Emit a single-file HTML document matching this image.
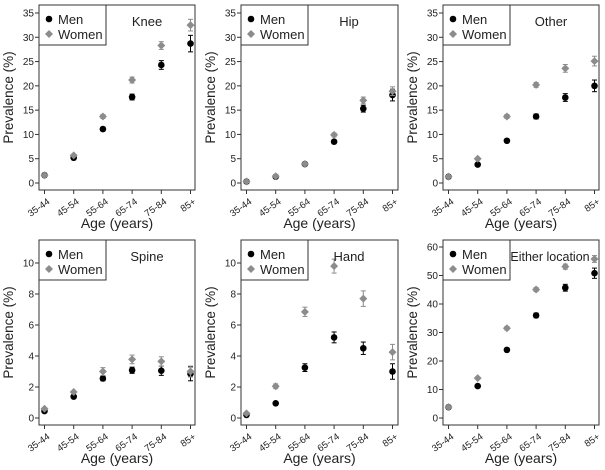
<!DOCTYPE html>
<html><head><meta charset="utf-8"><style>
html,body{margin:0;padding:0;background:#fff}
svg{display:block;font-family:"Liberation Sans",Arial,sans-serif}
</style></head><body>
<svg id="chart" width="605" height="470" viewBox="0 0 605 470" xmlns="http://www.w3.org/2000/svg"></svg>
<script>
const categories = ["35-44","45-54","55-64","65-74","75-84","85+"];
const panelTitles = ["Knee","Hip","Other","Spine","Hand","Either location"];
const kneeMen = [1.6,5.2,11.1,17.7,24.3,28.7];
const kneeMenErr = [0.3,0.3,0.4,0.6,0.9,1.7];
const kneeWomen = [1.6,5.7,13.7,21.2,28.3,32.5];
const kneeWomenErr = [0.3,0.3,0.4,0.6,0.8,1.2];
const hipMen = [0.3,1.3,3.9,8.5,15.3,18.1];
const hipMenErr = [0.1,0.2,0.3,0.4,0.7,1.2];
const hipWomen = [0.3,1.4,3.9,9.9,17.0,18.9];
const hipWomenErr = [0.1,0.2,0.3,0.4,0.7,0.9];
const otherMen = [1.3,3.8,8.7,13.7,17.6,20.0];
const otherMenErr = [0.2,0.3,0.3,0.5,0.8,1.2];
const otherWomen = [1.3,5.0,13.7,20.2,23.6,25.1];
const otherWomenErr = [0.2,0.3,0.4,0.5,0.8,1.0];
const spineMen = [0.45,1.38,2.55,3.08,3.05,2.85];
const spineMenErr = [0.05,0.08,0.15,0.2,0.3,0.45];
const spineWomen = [0.6,1.68,3.0,3.78,3.65,3.0];
const spineWomenErr = [0.05,0.08,0.25,0.28,0.3,0.35];
const handMen = [0.2,0.95,3.25,5.2,4.5,3.0];
const handMenErr = [0.05,0.08,0.25,0.35,0.4,0.5];
const handWomen = [0.3,2.05,6.85,9.8,7.7,4.25];
const handWomenErr = [0.05,0.15,0.3,0.45,0.5,0.5];
const eitherMen = [3.8,11.2,23.9,36.0,45.7,50.8];
const eitherMenErr = [0.3,0.5,0.6,0.8,1.2,1.8];
const eitherWomen = [3.8,14.0,31.5,45.1,53.1,55.8];
const eitherWomenErr = [0.3,0.5,0.6,0.7,0.9,1.2];
const ticksTop = [0,5,10,15,20,25,30,35];
const ticksSmall = [0,2,4,6,8,10];
const ticksEither = [0,10,20,30,40,50,60];

const NS="http://www.w3.org/2000/svg";
const svg=document.getElementById('chart');
function mk(tag,attrs,parent){const e=document.createElementNS(NS,tag);for(const k in attrs)e.setAttribute(k,attrs[k]);(parent||svg).appendChild(e);return e;}

const panels=[
 {men:kneeMen,me:kneeMenErr,wom:kneeWomen,we:kneeWomenErr,ticks:ticksTop,unit:170/35},
 {men:hipMen,me:hipMenErr,wom:hipWomen,we:hipWomenErr,ticks:ticksTop,unit:170/35},
 {men:otherMen,me:otherMenErr,wom:otherWomen,we:otherWomenErr,ticks:ticksTop,unit:170/35},
 {men:spineMen,me:spineMenErr,wom:spineWomen,we:spineWomenErr,ticks:ticksSmall,unit:155/10},
 {men:handMen,me:handMenErr,wom:handWomen,we:handWomenErr,ticks:ticksSmall,unit:155/10},
 {men:eitherMen,me:eitherMenErr,wom:eitherWomen,we:eitherWomenErr,ticks:ticksEither,unit:171/60}
];
const colLeft=[39,241,443], colRight=[195,398,599];
panels.forEach((p,i)=>{
  const c=i%3,r=Math.floor(i/3);
  const L=colLeft[c],R=colRight[c],T=5+r*235,B=190+r*235,y0=183+r*235;
  const x0=L+5.5, step=29.2;
  const g=mk('g',{});
  
  
  const xs=k=>x0+k*step, ys=v=>y0-v*p.unit;
  mk('rect',{x:L,y:T,width:R-L,height:B-T,fill:'none',stroke:'#333','stroke-width':1},g);
  p.ticks.forEach(t=>{
    mk('line',{x1:L-4,x2:L,y1:ys(t),y2:ys(t),stroke:'#333'},g);
    const tx=mk('text',{x:L-5,y:ys(t)+3.5,'font-size':10,'text-anchor':'end',fill:'#222'},g);tx.textContent=t;
    
    
  });
  categories.forEach((cat,k)=>{
    mk('line',{x1:xs(k),x2:xs(k),y1:B,y2:B+4,stroke:'#333'},g);
    const ax=xs(k)+6, ay=B+13;
    const tx=mk('text',{x:ax,y:ay,'font-size':9.5,'text-anchor':'end',fill:'#222',transform:`rotate(-35 ${ax} ${ay})`},g);tx.textContent=cat;
    
    
  });
  const yt=mk('text',{x:0,y:0,'font-size':13.5,'text-anchor':'middle',fill:'#222',transform:`translate(${L-26},${(T+B)/2}) rotate(-90)`},g);yt.textContent='Prevalence (%)';
  
  
  const xt=mk('text',{x:(L+R)/2,y:B+38,'font-size':14,'text-anchor':'middle',fill:'#222'},g);xt.textContent='Age (years)';
  
  
  function series(vals,errs,col,diamond,name){
    vals.forEach((v,k)=>{
      const x=xs(k),y=ys(v),e=errs[k]*p.unit;
      if(e>1.5){
        mk('line',{x1:x,x2:x,y1:y-e,y2:y+e,stroke:col,'stroke-width':1},g);
        mk('line',{x1:x-2.5,x2:x+2.5,y1:y-e,y2:y-e,stroke:col},g);
        mk('line',{x1:x-2.5,x2:x+2.5,y1:y+e,y2:y+e,stroke:col},g);
      }
      let m;
      if(diamond) m=mk('polygon',{points:`${x},${y-4} ${x+4},${y} ${x},${y+4} ${x-4},${y}`,fill:col},g);
      else m=mk('circle',{cx:x,cy:y,r:3.3,fill:col},g);
      
      
    });
  }
  series(p.men,p.me,'#000',false,'men');
  series(p.wom,p.we,'#8c8c8c',true,'women');
  const lg=mk('g',{},g);
  
  
  mk('rect',{x:L,y:T,width:67,height:40,fill:'#fff',stroke:'#333'},lg);
  mk('circle',{cx:L+10,cy:T+14,r:3.3,fill:'#000'},lg);
  mk('polygon',{points:`${L+10},${T+25} ${L+14},${T+29} ${L+10},${T+33} ${L+6},${T+29}`,fill:'#8c8c8c'},lg);
  const t1=mk('text',{x:L+19,y:T+19,'font-size':13,fill:'#222'},lg);t1.textContent='Men';
  const t2=mk('text',{x:L+19,y:T+34,'font-size':13,fill:'#222'},lg);t2.textContent='Women';
  const pt=mk('text',{x:i==5?L+107:L+108,y:T+21,'font-size':i==5?12.5:13,'text-anchor':'middle',fill:'#222'},g);pt.textContent=panelTitles[i];
  
  
});
</script>
</body></html>
